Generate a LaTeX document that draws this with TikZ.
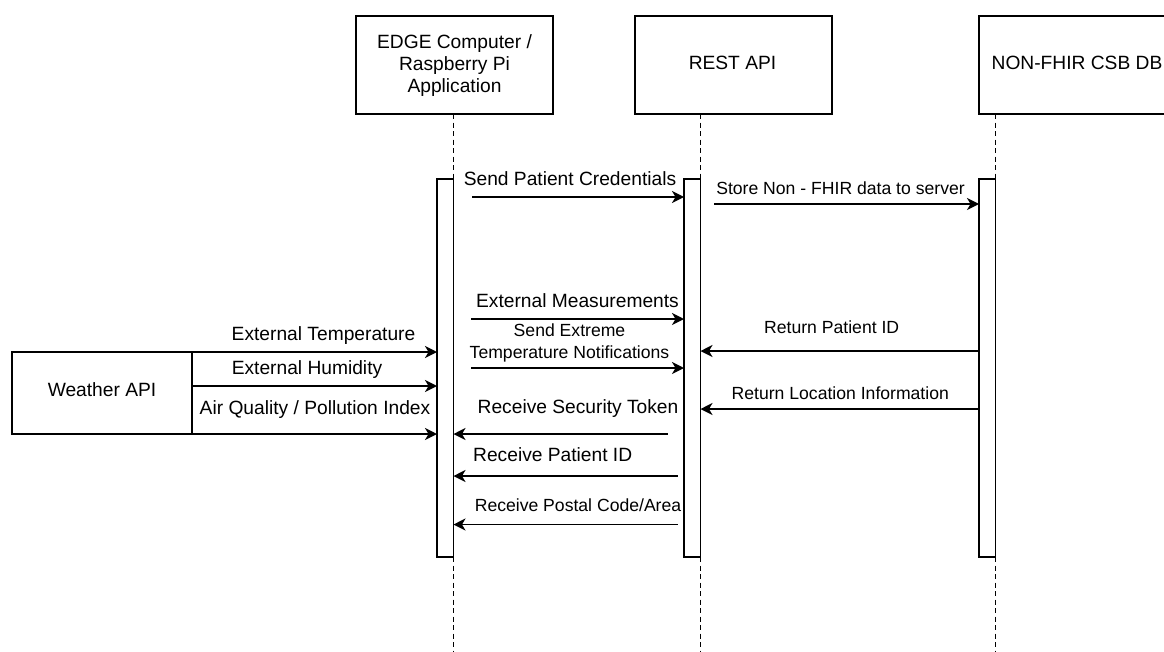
\documentclass[tikz,border=0pt]{standalone}
\usepackage{fontspec}
\setmainfont{Liberation Sans}
\usetikzlibrary{arrows.meta}
\newcommand{\lblfont}{\fontsize{19.2}{22.2}\selectfont}
\newcommand{\smlfont}{\fontsize{17.6}{21.6}\selectfont}
\begin{document}
\begin{tikzpicture}[x=1pt,y=-1pt,
  lbl/.style={font=\lblfont, inner sep=0pt, outer sep=0pt},
  sml/.style={font=\smlfont, inner sep=0pt, outer sep=0pt},
  box/.style={draw, line width=1.6pt, minimum width=197pt, minimum height=98pt, inner sep=0pt, outer sep=0pt},
  actbar/.style={draw, fill=white, line width=1.6pt, minimum width=16.5pt, minimum height=378pt, inner sep=0pt, outer sep=0pt, anchor=north west},
  lifeline/.style={line width=1.5pt, dash pattern=on 5pt off 3.5pt},
  msg/.style={line width=1.6pt, -{Stealth[length=12pt,width=12pt,inset=3.5pt]}},
]
\useasboundingbox (0,0) rectangle (1164,651);
\clip (0,0) rectangle (1164,651);

% participant boxes
\node[box] (edge) at (454.5,65) {};
\node[box] (rest) at (733.5,65) {};
\node[box] (db) at (1077.5,65) {};
\node[box, minimum width=180pt, minimum height=82pt] (weather) at (102,393) {};

\node[lbl, align=center, anchor=north] (edgetxt) at (454.5,34.5) {EDGE Computer /\\Raspberry Pi\\Application};
\node[lbl, anchor=base] (resttxt) at (732.5,69.3) {REST API};
\node[lbl, anchor=base] (dbtxt) at (1077,69.3) {NON-FHIR CSB DB};
\node[lbl, anchor=base] (weathertxt) at (102,396.7) {Weather API};

% activation bars
\node[actbar] (ebar) at (437,179) {};
\node[actbar] (rbar) at (684,179) {};
\node[actbar] (dbar) at (979,179) {};

\coordinate (bottom) at (0,651);

% lifelines
\draw[lifeline] (ebar.north east |- edge.south) -- (ebar.north east);
\draw[lifeline] (ebar.south east) -- (ebar.south east |- bottom);
\draw[lifeline] (rbar.north east |- rest.south) -- (rbar.north east);
\draw[lifeline] (rbar.south east) -- (rbar.south east |- bottom);
\draw[lifeline] (dbar.north east |- db.south) -- (dbar.north east);
\draw[lifeline] (dbar.south east) -- (dbar.south east |- bottom);

% messages EDGE -> REST
\coordinate (m1) at (472,197);
\draw[msg] (m1) -- (rbar.west |- m1);
\node[lbl, anchor=base] (t1) at (570,185) {Send Patient Credentials};

\coordinate (m3) at (471,319);
\draw[msg] (m3) -- (rbar.west |- m3);
\node[lbl, anchor=base] (t3) at (577.5,307.5) {External Measurements};

\coordinate (m4) at (471,368);
\draw[msg] (m4) -- (rbar.west |- m4);
\node[sml, align=center, anchor=north] (t4) at (569.5,324) {Send Extreme\\Temperature Notifications};

% REST -> DB
\coordinate (m2) at (714,204);
\draw[msg] (m2) -- (dbar.west |- m2);
\node[sml, anchor=base] (t2) at (840.5,194.3) {Store Non - FHIR data to server};

% DB -> REST
\coordinate (r5) at (0,351);
\draw[msg] (dbar.west |- r5) -- (rbar.east |- r5);
\node[sml, anchor=base] (t5) at (831.7,333.3) {Return Patient ID};

\coordinate (r6) at (0,409);
\draw[msg] (dbar.west |- r6) -- (rbar.east |- r6);
\node[sml, anchor=base] (t6) at (840.3,399.3) {Return Location Information};

% REST -> EDGE
\coordinate (m7) at (667.5,434);
\draw[msg] (m7) -- (ebar.east |- m7);
\node[lbl, anchor=base] (t7) at (578,413.5) {Receive Security Token};

\coordinate (m8) at (677.5,476);
\draw[msg] (m8) -- (ebar.east |- m8);
\node[lbl, anchor=base] (t8) at (552.7,461.7) {Receive Patient ID};

\coordinate (m9) at (677.5,524.5);
\draw[msg] (m9) -- (ebar.east |- m9);
\node[sml, anchor=base] (t9) at (578,511) {Receive Postal Code/Area};

% Weather API -> EDGE
\draw[msg] (weather.north east) -- (ebar.west |- weather.north east);
\coordinate (w2) at (0,386);
\draw[msg] (weather.east |- w2) -- (ebar.west |- w2);
\draw[msg] (weather.south east) -- (ebar.west |- weather.south east);
\node[lbl, anchor=base] (tw1) at (323.5,340) {External Temperature};
\node[lbl, anchor=base] (tw2) at (307,374) {External Humidity};
\node[lbl, anchor=base] (tw3) at (315,414) {Air Quality / Pollution Index};
\end{tikzpicture}
\end{document}
